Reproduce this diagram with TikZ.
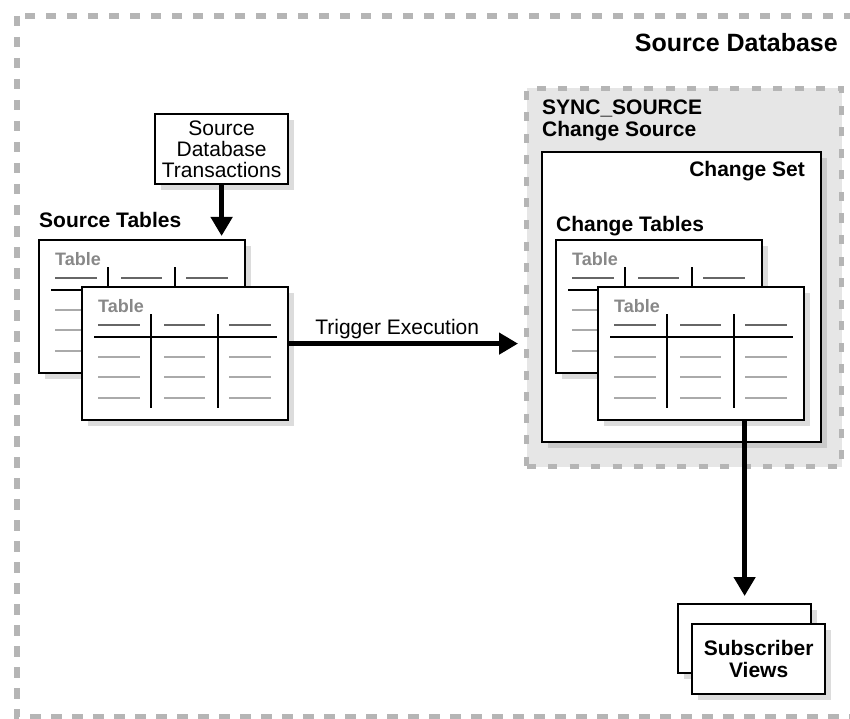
\documentclass[tikz,border=0pt]{standalone}
\usepackage{fontspec}
\setmainfont{Liberation Sans}
\usetikzlibrary{arrows.meta,calc}
\definecolor{shadowc}{HTML}{DCDCDC}
\definecolor{shadowd}{HTML}{CACACA}
\definecolor{dashc}{HTML}{B5B5B5}
\definecolor{syncfill}{HTML}{E6E6E6}
\definecolor{hdrc}{HTML}{666666}
\definecolor{rowc}{HTML}{AAAAAA}
\definecolor{tlabc}{HTML}{888888}
\tikzset{
  box/.style={draw=black, line width=2.2pt, fill=white, inner sep=0pt, anchor=north west},
  flow/.style={line width=4.5pt, -{Triangle[length=19pt,width=21pt]}},
  hdr/.style={draw=hdrc, line width=2pt},
  rowline/.style={draw=rowc, line width=2pt},
  grid/.style={draw=black, line width=2pt},
  tlabel/.style={font=\fontsize{18}{18}\selectfont\bfseries, text=tlabc, anchor=base west, inner sep=0pt},
  lbl/.style={font=\fontsize{21}{22}\selectfont\bfseries, inner sep=0pt},
  reg/.style={font=\fontsize{21}{21}\selectfont},
  title/.style={font=\fontsize{25}{28}\selectfont\bfseries, inner sep=0pt},
  outerdash/.style={draw=dashc, line width=6pt, dash pattern=on 10.5pt off 10.5pt},
  syncbox/.style={draw=dashc, fill=syncfill, line width=5pt, dash pattern=on 9pt off 12.5pt, inner sep=0pt, anchor=north west}
}
% name, x, y, w, h, shadow colour
\newcommand\mkshbox[6]{%
  \fill[#6] (#2+7,#3+7) rectangle ++(#4,#5);
  \node[box, minimum width=#4pt, minimum height=#5pt] (#1) at (#2,#3) {};}
\newcommand\mktable[3]{%
  \mkshbox{#1}{#2}{#3}{206}{133}{shadowc}
  \begin{scope}[shift={(#1.north west)}]
    \node[tlabel] (#1lab) at (17,26) {Table};
    \foreach \a/\b in {17/59,83/124,148/190}{
      \draw[hdr] (\a,39) -- (\b,39);
      \foreach \yy in {71,91,112} \draw[rowline] (\a,\yy) -- (\b,\yy);
    }
    \draw[grid] (70,28) -- (70,122);
    \draw[grid] (137,28) -- (137,122);
    \draw[grid] (13,51) -- (196,51);
  \end{scope}}
\begin{document}
\begin{tikzpicture}[x=1pt,y=-1pt]
\useasboundingbox (0,0) rectangle (850,719);
% outer frame
\draw[outerdash] (17,16) rectangle (858,717);
\node[title, anchor=base east] (srcdb) at (838,52) {Source Database};
% transactions
\fill[shadowc] (161,120) rectangle ++(133,70);
\node[box, minimum width=133pt, minimum height=70pt, align=center, reg] (trans) at (154,113) {Source\\Database\\Transactions};
\node[lbl, anchor=base west] (srctablbl) at (39,228) {Source Tables};
\mktable{srcback}{38}{239}
\mktable{srcfront}{81}{286}
% sync source
\node[syncbox, minimum width=315pt, minimum height=378pt] (sync) at (524,86) {};
\node[lbl, align=left, anchor=north west] (synclbl) at (542,100) {SYNC\_SOURCE\\Change Source};
\mkshbox{chgset}{541}{151}{279}{290}{shadowd}
\node[lbl, anchor=base east] (chgsetlbl) at (805,177) {Change Set};
\node[lbl, anchor=base west] (chgtablbl) at (556,231) {Change Tables};
\mktable{chgback}{555}{239}
\mktable{chgfront}{597}{286}
% subscriber views
\mkshbox{subback}{677}{603}{133}{69}{shadowc}
\fill[shadowc] (698,630) rectangle ++(133,70);
\node[box, minimum width=133pt, minimum height=70pt, align=center, lbl] (subfront) at (691,623) {Subscriber\\Views};
% connectors
\draw[flow, shorten >=3pt] (trans.south) -- (trans.south |- srcback.north);
\path ($(srcfront.east)+(0,-10)$) coordinate (trigS);
\draw[flow, shorten >=6pt] (trigS) -- (trigS -| sync.west)
  node[reg, pos=0.46, anchor=base, yshift=9pt, inner sep=0pt] (triglbl) {Trigger Execution};
\draw[flow, shorten >=7pt] (chgfront.south -| subback.north) -- (subback.north);
\end{tikzpicture}
\end{document}
